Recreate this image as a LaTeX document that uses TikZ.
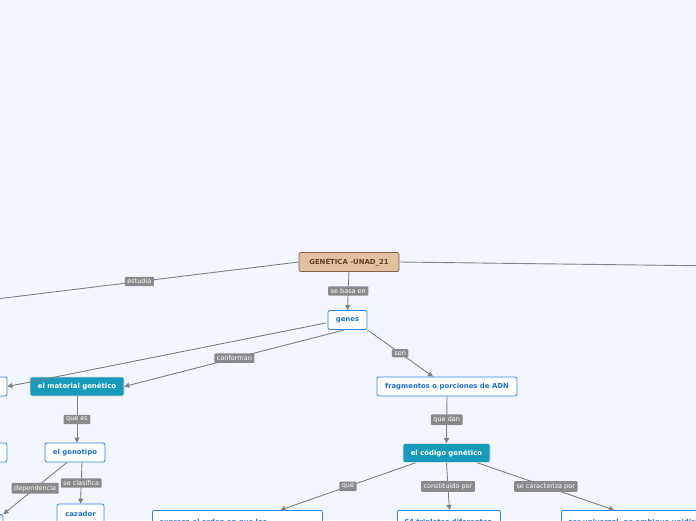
\documentclass[tikz,border=0pt]{standalone}
\usepackage{fontspec}
\setmainfont{DejaVu Sans}
\usepackage{tikz}
\usetikzlibrary{arrows.meta,positioning,calc}
\usepackage{xcolor}
\definecolor{paperblue}{RGB}{243,246,254}
\definecolor{rootfill}{RGB}{226,192,160}
\definecolor{rootline}{RGB}{128,98,76}
\definecolor{roottext}{RGB}{96,64,40}
\definecolor{conceptblue}{RGB}{44,134,240}
\definecolor{textblue}{RGB}{30,112,214}
\definecolor{keyteal}{RGB}{24,154,186}
\definecolor{linkgray}{RGB}{128,128,134}
\definecolor{tagfill}{RGB}{138,138,140}

\begin{document}
\begin{tikzpicture}[x=1pt, y=-1pt, >={Triangle[length=5pt,width=5pt]}]
\tikzset{
  rootn/.style={draw=rootline, fill=rootfill, line width=0.7pt, rounded corners=2pt, text=roottext, font=\bfseries\fontsize{6.9}{8}\selectfont, minimum height=19pt, inner xsep=6pt},
  conc/.style={draw=conceptblue, fill=white, line width=0.8pt, rounded corners=2pt, text=textblue, font=\bfseries\fontsize{6.9}{8}\selectfont, minimum height=19pt, inner xsep=6pt},
  keyn/.style={draw=white!75!gray, fill=keyteal, line width=0.6pt, rounded corners=2pt, text=white, font=\bfseries\fontsize{6.9}{8}\selectfont, minimum height=19pt, inner xsep=6pt},
  tag/.style={fill=tagfill, text=white, rounded corners=1pt, font=\fontsize{6.5}{7}\selectfont, inner xsep=2.5pt, inner ysep=2.2pt},
  link/.style={draw=linkgray, line width=0.9pt}
}
\fill[paperblue] (0,0) rectangle (696,520);
\clip (0,0) rectangle (696,520);

% centre
\node[rootn, minimum width=100pt] (root) at (349,262) {GENÉTICA -UNAD\_21};
\coordinate (offleft) at (-20,301);
\coordinate (offright) at (720,266);

% first level
\node[conc, minimum width=39pt] (genes) at (347.5,320) {genes};
\node[conc, minimum width=60pt] (leftA) at (-23,386.5) {};
\node[keyn, minimum width=94pt] (matgen) at (77,386.5) {el material genético};
\node[conc, minimum width=140pt] (frag) at (447,386.5) {fragmentos o porciones de ADN};

% second level
\node[conc, minimum width=60pt] (leftB) at (-23,452.5) {};
\node[conc, minimum width=60pt] (genotipo) at (75,452.5) {el genotipo};
\node[keyn, minimum width=87pt] (codigo) at (446.5,453) {el código genético};

% third level
\node[conc, minimum width=60pt] (leftC) at (-27,524) {};
\node[conc, minimum width=47pt] (cazador) at (80.5,513.5) {cazador};
\node[conc, anchor=north west, minimum width=170pt, minimum height=24pt, text width=156pt, align=left, inner ysep=4pt] (expresa) at (152,510) {expresa el orden en que los};
\node[conc, anchor=north west, minimum width=103pt, minimum height=24pt, text width=89pt, align=left, inner ysep=4pt] (tripletes) at (397,510) {64 tripletes diferentes};
\node[conc, anchor=north west, minimum width=190pt, minimum height=24pt, text width=176pt, align=left, inner ysep=4pt] (universal) at (561,510) {ser universal, no ambiguo unidireccional};

% connectors
\draw[link] (root.west) -- node[tag, pos=0.5] {estudia} (offleft);
\draw[link] (root.east) -- (offright);
\draw[link,->] (root.south) -- node[tag] {se basa en} (genes.north);
\draw[link,->] ($(genes.west)+(-2,3)$) -- (leftA.east);
\draw[link,->] ($(genes.south)+(-3,0)$) -- node[tag] {conforman} (matgen.east);
\draw[link,->] (genes.south east) -- node[tag] {son} ($(frag.north)+(-14,0)$);
\draw[link,->] (matgen.south) -- node[tag] {que es} ($(genotipo.north)+(2,0)$);
\draw[link,->] ($(genotipo.south)+(7,0)$) -- node[tag] {se clasifica} (cazador.north);
\draw[link,->] ($(genotipo.south)+(-8,0)$) -- node[tag] {dependencia} (leftC.north east);
\draw[link,->] (frag.south) -- node[tag] {que dan} (codigo.north);
\draw[link,->] ($(codigo.south)+(-31,0)$) -- node[tag] {que} ($(expresa.north)+(43,0)$);
\draw[link,->] (codigo.south) -- node[tag] {constituido por} ($(tripletes.north)+(0.5,0)$);
\draw[link,->] ($(codigo.south)+(31,0)$) -- node[tag] {se caracteriza por} ($(universal.north west)+(53,0)$);
\end{tikzpicture}
\end{document}
